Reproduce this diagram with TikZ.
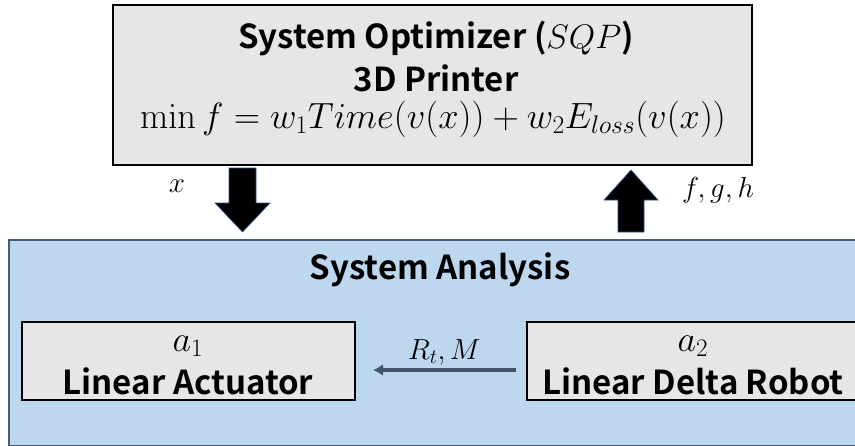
\RequirePackage{fix-cm}
\documentclass[tikz,border=0pt]{standalone}
\usepackage[no-math]{fontspec}
\setmainfont{Noto Sans CJK KR}[BoldFont={* Bold}]
\usetikzlibrary{calc,arrows.meta}
\definecolor{boxgray}{HTML}{E7E6E6}
\definecolor{panelblue}{HTML}{BDD7EE}
\definecolor{paneledge}{HTML}{4A5C74}
\definecolor{slate}{HTML}{44546A}
\definecolor{arrowedge}{HTML}{2F528F}
\tikzset{
  graybox/.style={draw=black, line width=2.2pt, fill=boxgray, inner sep=0pt},
  panel/.style={draw=paneledge, line width=1.6pt, fill=panelblue, inner sep=0pt},
  boldtext/.style={font=\bfseries\fontsize{33}{38}\selectfont},
  mathtext/.style={font=\fontsize{36.5}{42}\selectfont},
  symtext/.style={font=\fontsize{36}{40}\selectfont},
  labeltext/.style={font=\fontsize{29}{34}\selectfont},
  blockarrow/.style={fill=black, draw=arrowedge, line width=0.6pt},
}
\begin{document}
\begin{tikzpicture}[x=1pt, y=-1pt]
\useasboundingbox (0,0) rectangle (855,445);

% optimizer block
\node[graybox, minimum width=639pt, minimum height=160pt] (opt) at (432.5,85) {};
\node[boldtext] (optname) at (436,38) {System Optimizer ({\fontsize{34}{38}\selectfont$SQP$})};
\node[boldtext] (printer) at (436,78) {3D Printer};
\node[mathtext] (objective) at (433,119) {$\min f = w_1 Time(v(x)) + w_2 E_{loss}(v(x))$};

% analysis panel
\node[panel, minimum width=860pt, minimum height=206pt] (ana) at (439,343) {};
\node[boldtext] (anatitle) at (440,270) {System Analysis};

\node[graybox, minimum width=333pt, minimum height=78pt] (act) at (188.5,361) {};
\node[symtext] (a1) at (188,346) {$a_1$};
\node[boldtext] (actname) at (188,381) {Linear Actuator};

\node[graybox, minimum width=340pt, minimum height=78pt] (rob) at (697,361) {};
\node[symtext] (a2) at (693,346) {$a_2$};
\node[boldtext] (robname) at (693,381) {Linear Delta Robot};

% coupling between the subsystems
\draw[slate, line width=3.4pt, -{Latex[length=10pt,width=12pt]}] ($(rob.west)+(-10,9)$) -- node[above=0pt, labeltext, text=black] (rtm) {$R_t, M$} ($(act.east)+(17,9)$);

% design variables down, responses up
\draw[blockarrow] (229,168) -- (256,168) -- (256,203) -- (270,203) -- (242.5,232) -- (215,203) -- (229,203) -- cycle;
\node[labeltext] (xlab) at (177,186) {$x$};

\draw[blockarrow] (618,232) -- (644,232) -- (644,200) -- (658,200) -- (631,170) -- (604,200) -- (618,200) -- cycle;
\node[labeltext] (fgh) at (718,190) {$f, g, h$};
\end{tikzpicture}
\end{document}
